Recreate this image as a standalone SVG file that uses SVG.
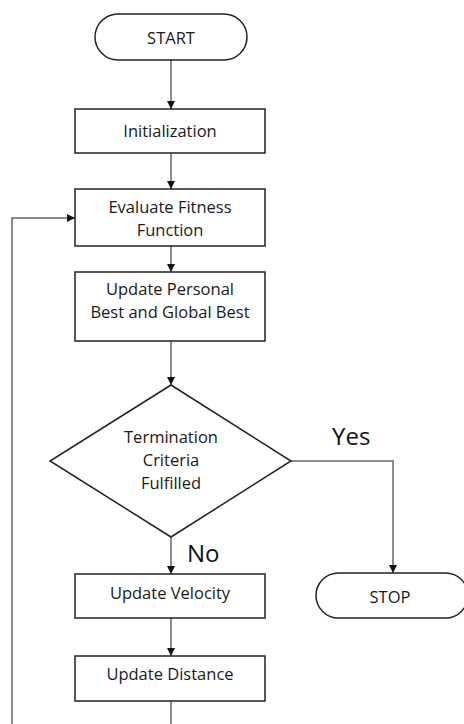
<svg xmlns="http://www.w3.org/2000/svg" width="464" height="724" viewBox="0 0 464 724">
<defs>
<marker id="ah" markerWidth="8" markerHeight="8" refX="8" refY="4" orient="auto" markerUnits="userSpaceOnUse">
<path d="M0,0 L8,4 L0,8 Z" fill="#111"/>
</marker>
<style>
.box{fill:#fff;stroke:#222;stroke-width:1.5}
.con{fill:none;stroke:#666;stroke-width:1.5}
.t{font-family:"Open Sans",Lato,sans-serif;font-size:16.5px;fill:#1a1a1a;text-anchor:middle}
.lbl{font-family:"Open Sans",Lato,sans-serif;font-size:24px;fill:#111}
</style>
</defs>
<rect width="464" height="724" fill="#fff"/>
<g id="connectors">
<line class="con" x1="171" y1="60" x2="171" y2="109" marker-end="url(#ah)"/>
<line class="con" x1="171" y1="153" x2="171" y2="189" marker-end="url(#ah)"/>
<line class="con" x1="171" y1="246" x2="171" y2="272" marker-end="url(#ah)"/>
<line class="con" x1="171" y1="341" x2="171" y2="385" marker-end="url(#ah)"/>
<line class="con" x1="171" y1="537" x2="171" y2="574" marker-end="url(#ah)"/>
<line class="con" x1="171" y1="618" x2="171" y2="656" marker-end="url(#ah)"/>
<line class="con" x1="171" y1="701" x2="171" y2="724"/>
<polyline class="con" points="291,461 393,461 393,573" marker-end="url(#ah)"/>
<polyline class="con" points="12,724 12,218 75,218" marker-end="url(#ah)"/>
<text class="lbl" x="332" y="445">Yes</text>
<text class="lbl" x="187" y="562">No</text>
</g>
<g id="start">
<rect class="box" x="95" y="14" width="152" height="46" rx="23"/>
<text class="t" x="171" y="44">START</text>
</g>
<g id="init">
<rect class="box" x="75" y="109" width="190" height="44"/>
<text class="t" x="170" y="137">Initialization</text>
</g>
<g id="evaluate">
<rect class="box" x="75" y="189" width="190" height="57"/>
<text class="t" x="170" y="213">Evaluate Fitness</text>
<text class="t" x="170" y="236">Function</text>
</g>
<g id="update-best">
<rect class="box" x="75" y="272" width="190" height="69"/>
<text class="t" x="170" y="295">Update Personal</text>
<text class="t" x="170" y="318">Best and Global Best</text>
</g>
<g id="termination">
<polygon class="box" points="171,385 291,461 171,537 50,461"/>
<text class="t" x="171" y="443">Termination</text>
<text class="t" x="171" y="466">Criteria</text>
<text class="t" x="171" y="489">Fulfilled</text>
</g>
<g id="velocity">
<rect class="box" x="75" y="574" width="190" height="44"/>
<text class="t" x="170" y="599">Update Velocity</text>
</g>
<g id="distance">
<rect class="box" x="75" y="656" width="190" height="45"/>
<text class="t" x="170" y="680">Update Distance</text>
</g>
<g id="stop">
<rect class="box" x="316" y="573" width="152" height="45" rx="22.5"/>
<text class="t" x="390" y="603">STOP</text>
</g>
</svg>
